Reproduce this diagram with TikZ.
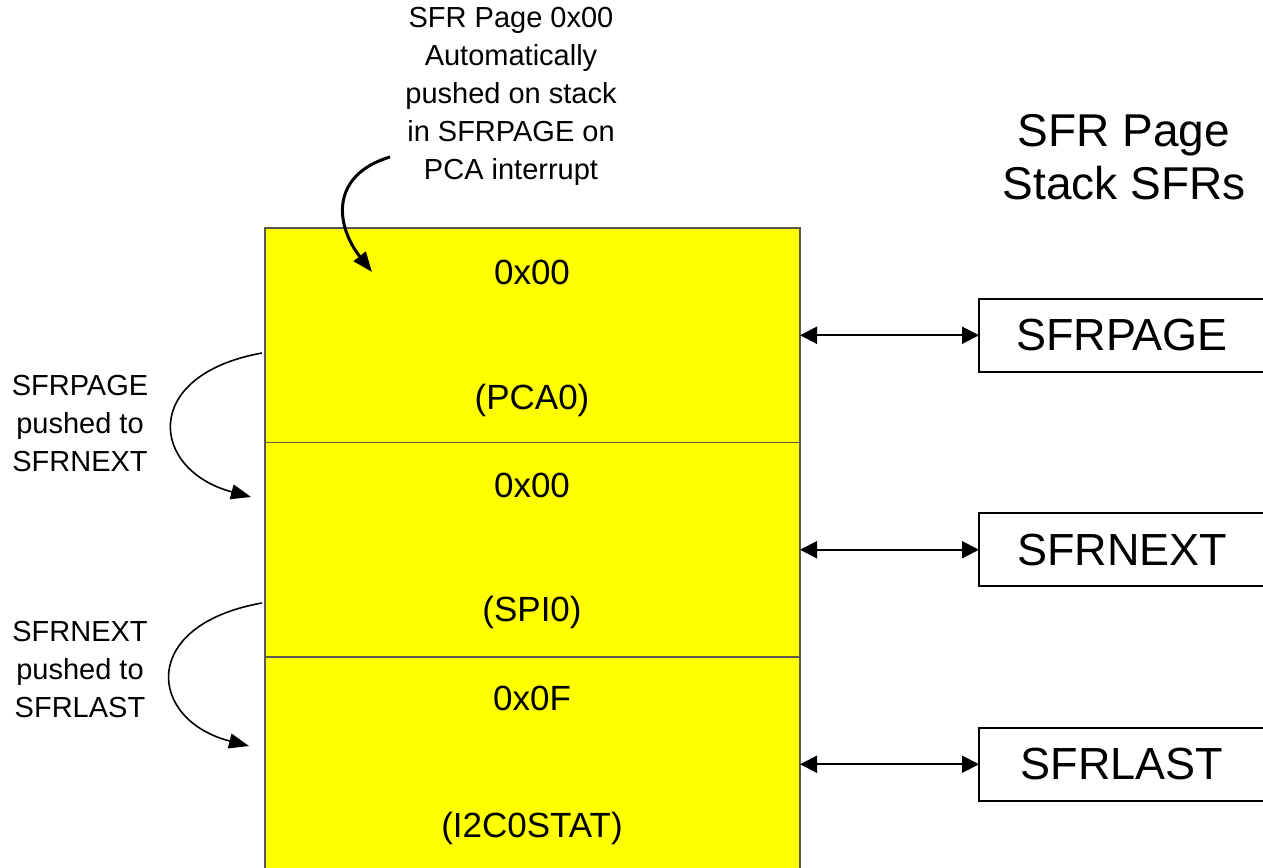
\documentclass[tikz,border=0pt]{standalone}
\usepackage{fontspec}
\setmainfont{Liberation Sans}
\usetikzlibrary{arrows.meta, positioning}
\definecolor{stackyellow}{HTML}{FFFF00}
\definecolor{stackedge}{HTML}{5A5A48}

\tikzset{
  cell/.style={draw=stackedge, line width=1.2pt, fill=stackyellow, minimum width=535pt, minimum height=214.5pt, inner sep=0pt, outer sep=0pt},
  reg/.style={draw=black, line width=2pt, minimum width=286pt, minimum height=73pt, inner sep=0pt, outer sep=0pt, font=\fontsize{45}{52}\selectfont},
  note/.style={align=center, inner sep=0pt, font=\fontsize{29}{38}\selectfont},
  val/.style={inner sep=0pt, font=\fontsize{35}{40}\selectfont},
  link/.style={line width=2pt, {Triangle[length=17pt,width=17pt]}-{Triangle[length=17pt,width=17pt]}},
  push/.style={line width=1.6pt, -{Triangle[length=20pt,width=15pt]}}
}

\begin{document}
\begin{tikzpicture}[x=1pt, y=-1pt]
  \clip (0,0) rectangle (1263,867);
  \useasboundingbox (0,0) rectangle (1263,867);
  % Stack cells
  \node[cell, anchor=north west] (page) at (265,228) {};
  \node[cell, below=0pt of page] (next) {};
  \node[cell, below=0pt of next] (last) {};
  \node[val] (pageval) at (532,272) {0x00};
  \node[val] (pagesrc) at (532,400) {(PCA0)};
  \node[val] (nextval) at (532,485) {0x00};
  \node[val] (nextsrc) at (532,612) {(SPI0)};
  \node[val] (lastval) at (532,698) {0x0F};
  \node[val] (lastsrc) at (532,828) {(I2C0STAT)};
  % Registers
  \node[reg, right=179pt of page] (sfrpage) {SFRPAGE};
  \node[reg, right=179pt of next] (sfrnext) {SFRNEXT};
  \node[reg, right=179pt of last] (sfrlast) {SFRLAST};
  \draw[link] (page.east) -- (sfrpage.west);
  \draw[link] (next.east) -- (sfrnext.west);
  \draw[link] (last.east) -- (sfrlast.west);
  % Labels
  \node[note, font=\fontsize{46}{53}\selectfont] (title) at (1124,157) {SFR Page\\Stack SFRs};
  \node[note] (pcanote) at (511,96) {SFR Page 0x00\\Automatically\\pushed on stack\\in SFRPAGE on\\PCA interrupt};
  \node[note] (pushone) at (80,424) {SFRPAGE\\pushed to\\SFRNEXT};
  \node[note] (pushtwo) at (80,670) {SFRNEXT\\pushed to\\SFRLAST};
  % Push arrows
  \coordinate (pcatail) at (390,157);
  \coordinate (pcahead) at (372,272);
  \coordinate (onetail) at (262,353);
  \coordinate (onehead) at (251,497);
  \coordinate (twotail) at (262,603);
  \coordinate (twohead) at (249,746);
  \draw[push, line width=3pt] (pcatail) .. controls (330,175) and (335,225) .. (pcahead);
  \draw[push] (onetail) .. controls (140,375) and (150,470) .. (onehead);
  \draw[push] (twotail) .. controls (138,625) and (148,720) .. (twohead);
\end{tikzpicture}
\end{document}
